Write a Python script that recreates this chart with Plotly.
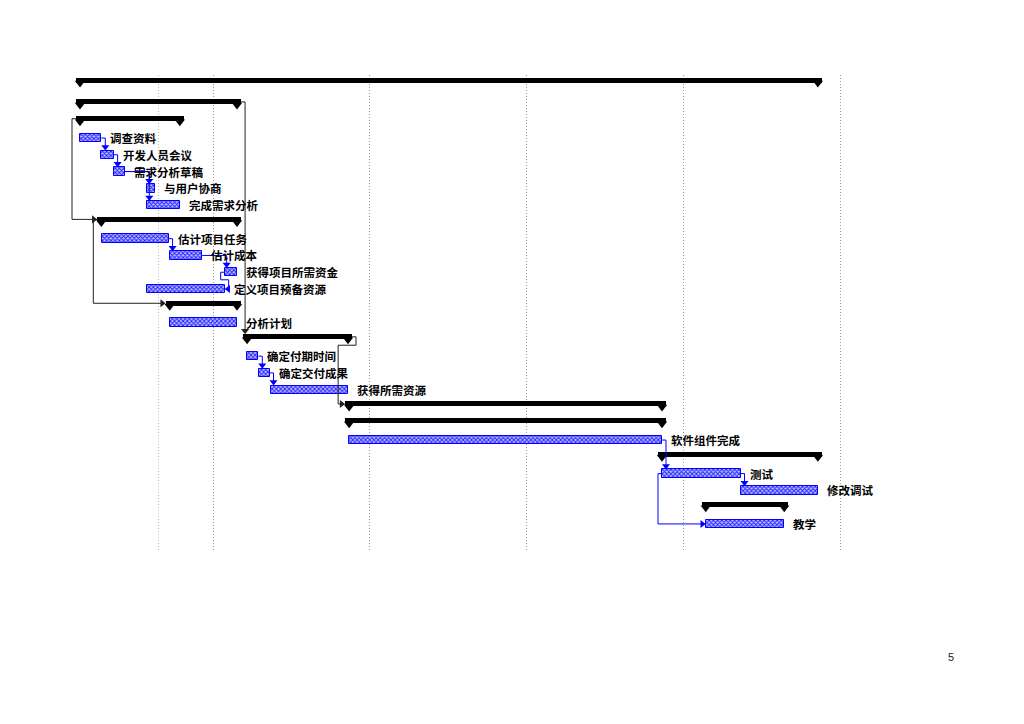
import plotly.graph_objects as go

# ---------------- data (days from project start) ----------------
row_pos = [-0.3] + list(range(1, 27))
names = ["", "", "", "调查资料", "开发人员会议", "需求分析草稿", "与用户协商", "完成需求分析",
         "", "估计项目任务", "估计成本", "获得项目所需资金", "定义项目预备资源",
         "", "分析计划", "", "确定付期时间", "确定交付成果", "获得所需资源",
         "", "", "软件组件完成", "", "测试", "修改调试", "", "教学"]
is_summary = [1, 1, 1, 0, 0, 0, 0, 0, 1, 0, 0, 0, 0, 1, 0, 1, 0, 0, 0, 1, 1, 0, 1, 0, 0, 1, 0]
starts = [0.0, 0.0, 0.0, 0.0, 1.9, 3.0, 6.0, 6.0, 1.9, 2.0, 8.0, 12.9, 6.0, 8.0, 8.0,
          14.9, 14.9, 16.0, 17.0, 24.0, 24.0, 24.0, 51.9, 51.9, 58.9, 55.8, 55.8]
finishes = [65.8, 14.0, 8.9, 1.9, 3.0, 4.0, 6.7, 8.9, 14.0, 7.9, 10.9, 14.0, 12.9, 14.0, 14.0,
            23.9, 15.9, 16.9, 23.9, 51.9, 51.9, 51.9, 65.8, 58.9, 65.8, 62.8, 62.8]
# dependency links: (predecessor row, successor row, type)
links = [(3, 4, "FS"), (4, 5, "FS"), (5, 6, "FS"), (5, 7, "FS"), (9, 10, "FS"), (10, 11, "FS"),
         (11, 12, "SF"), (16, 17, "FS"), (17, 18, "FS"), (21, 23, "FS"), (23, 24, "FS"),
         (23, 26, "SS"), (2, 8, "SS"), (8, 13, "SS"), (1, 15, "FS"), (15, 19, "FSA")]
grid_start = 11.86
grid_step = 14
status_day = 7.0
page_number = "5"

# ---------------- layout geometry ----------------
PAGE_MARGIN = 8                      # default body margin of the html page
W, H = 1024 - 2 * PAGE_MARGIN, 724 - 2 * PAGE_MARGIN
ML, MT = 60 - PAGE_MARGIN, 75 - PAGE_MARGIN
MR = W - (860 - PAGE_MARGIN)
MB = H - (550 - PAGE_MARGIN)
PW, PH = W - ML - MR, H - MT - MB
X_RANGE = [-1.7835, 69.556]
Y_RANGE = [27.553, -0.7545]
ppd = PW / (X_RANGE[1] - X_RANGE[0])       # pixels per day
ppr = PH / (Y_RANGE[0] - Y_RANGE[1])       # pixels per row


def dx(px):
    return px / ppd


def dy(px):
    return px / ppr


CAP = dx(4)
SUM_OFF = -0.15
SUM_H = 0.3
TASK_H = 0.5
FONT = "Noto Sans CJK SC"

fig = go.Figure()

# task bars
t_idx = [i for i in range(27) if not is_summary[i]]
fig.add_trace(go.Bar(
    orientation="h",
    y=[row_pos[i] for i in t_idx],
    base=[starts[i] for i in t_idx],
    x=[finishes[i] - starts[i] for i in t_idx],
    width=TASK_H,
    marker=dict(color="#ffffff", line=dict(color="#0000ff", width=1),
                pattern=dict(shape="x", fgcolor="#2020ff", bgcolor="#bcbcff", size=3, solidity=0.5,
                             fillmode="replace")),
    hoverinfo="skip", showlegend=False))

# summary bars
s_idx = [i for i in range(27) if is_summary[i]]
fig.add_trace(go.Bar(
    orientation="h",
    y=[row_pos[i] + SUM_OFF for i in s_idx],
    base=[starts[i] - CAP for i in s_idx],
    x=[finishes[i] - starts[i] + 2 * CAP for i in s_idx],
    width=SUM_H,
    marker=dict(color="#000000", line=dict(width=0)),
    hoverinfo="skip", showlegend=False))
fig.add_trace(go.Scatter(
    x=[starts[i] for i in s_idx] + [finishes[i] for i in s_idx],
    y=[row_pos[i] + SUM_OFF + dy(3) for i in s_idx] * 2,
    mode="markers", marker=dict(symbol="triangle-down", size=9, color="#000000"),
    hoverinfo="skip", showlegend=False))


# links
def bounds(i):
    if is_summary[i]:
        return starts[i] - CAP, finishes[i] + CAP, row_pos[i] + SUM_OFF, SUM_H / 2
    return starts[i], finishes[i], row_pos[i], TASK_H / 2


AS = 7  # arrow size
paths = {"blue": ([], []), "black": ([], [])}
arrows = {"blue": ([], [], []), "black": ([], [], [])}
for p, s, kind in links:
    col = "black" if is_summary[p] else "blue"
    pl, pr, py, _ = bounds(p)
    sl, sr, sy, sh = bounds(s)
    g = dx(4)
    if kind == "FS":
        xv = max(pr + g, sl + dx(2))
        tip = sy - sh
        cy = tip - dy(AS / 2)
        pts = [(pr, py), (xv, py), (xv, cy)]
        arrows[col][0].append(xv); arrows[col][1].append(cy); arrows[col][2].append("triangle-down")
    elif kind == "FSA":
        xv = pr + g
        ym = py + 0.5
        xl = sl - dx(7)
        cx = sl - dx(AS / 2)
        pts = [(pr, py), (xv, py), (xv, ym), (xl, ym), (xl, sy), (cx, sy)]
        arrows[col][0].append(cx); arrows[col][1].append(sy); arrows[col][2].append("triangle-right")
    elif kind == "SS":
        xv = pl - g
        cx = sl - dx(AS / 2)
        pts = [(pl, py), (xv, py), (xv, sy), (cx, sy)]
        arrows[col][0].append(cx); arrows[col][1].append(sy); arrows[col][2].append("triangle-right")
    else:  # SF
        xv = pl - g
        ym = py + 0.45
        xr = sr + g
        cx = sr + dx(AS / 2)
        pts = [(pl, py), (xv, py), (xv, ym), (xr, ym), (xr, sy), (cx, sy)]
        arrows[col][0].append(cx); arrows[col][1].append(sy); arrows[col][2].append("triangle-left")
    xs, ys = paths[col]
    xs.extend([q[0] for q in pts] + [None])
    ys.extend([q[1] for q in pts] + [None])

colors = {"blue": "#0000ff", "black": "#222222"}
for col in ("black", "blue"):
    fig.add_trace(go.Scatter(x=paths[col][0], y=paths[col][1], mode="lines",
                             line=dict(color=colors[col], width=1),
                             hoverinfo="skip", showlegend=False))
    fig.add_trace(go.Scatter(x=arrows[col][0], y=arrows[col][1], mode="markers",
                             marker=dict(symbol=arrows[col][2], size=AS, color=colors[col]),
                             hoverinfo="skip", showlegend=False))

# labels
for i in t_idx:
    fig.add_annotation(x=finishes[i], y=row_pos[i], text=names[i], showarrow=False,
                       xanchor="left", yanchor="middle", xshift=7,
                       font=dict(family=FONT, size=11.5, color="#000000", weight="bold"))

# page number (screen position 951, 657)
fig.add_annotation(x=(951 - PAGE_MARGIN - ML) / PW, y=(H - MB - (657 - PAGE_MARGIN)) / PH,
                   xref="paper", yref="paper", text=page_number, showarrow=False,
                   xanchor="center", yanchor="middle",
                   font=dict(family="Liberation Sans", size=11, color="#222222"))

# status line
fig.add_shape(type="line", x0=status_day, x1=status_day, y0=0, y1=1, xref="x", yref="paper",
              line=dict(color="#b8b8b8", width=1, dash="1px,2px"), layer="below")

fig.update_layout(
    width=W, height=H, margin=dict(l=ML, r=MR, t=MT, b=MB),
    paper_bgcolor="white", plot_bgcolor="white", barmode="overlay", bargap=0,
    xaxis=dict(range=X_RANGE, tickmode="linear", tick0=grid_start, dtick=grid_step,
               showgrid=True, gridcolor="#9a9a9a", griddash="1px,2px", gridwidth=1,
               showticklabels=False, zeroline=False, showline=False, ticks=""),
    yaxis=dict(range=Y_RANGE, showgrid=False, showticklabels=False, zeroline=False,
               showline=False, ticks=""),
)

fig.write_html("out.html")
